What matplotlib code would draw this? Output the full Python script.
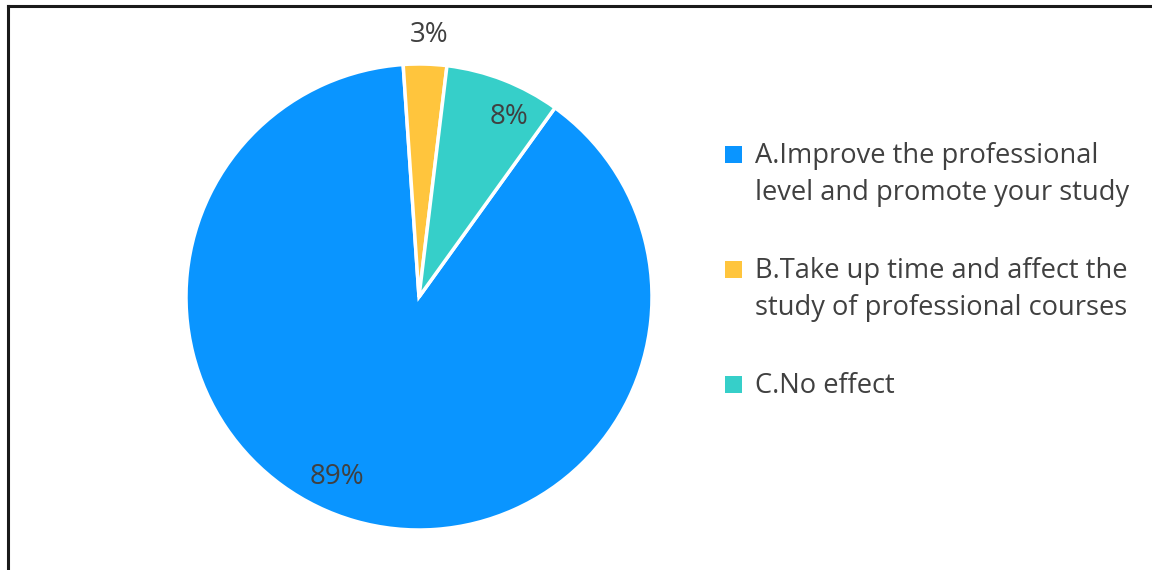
import matplotlib
matplotlib.use("Agg")
import matplotlib.pyplot as plt
from matplotlib.lines import Line2D
from matplotlib.patches import Rectangle

plt.rcParams['font.family'] = ['Open Sans', 'DejaVu Sans']

labels = ["A.Improve the professional\nlevel and promote your study",
          "B.Take up time and affect the\nstudy of professional courses",
          "C.No effect"]
values = [89, 3, 8]
colors = ["#0A95FF", "#FFC53D", "#36CFC9"]
text_color = "#404040"

# where each percentage sits, in pie units
label_xy = [(-0.352, -0.773), (0.043, 1.124), (0.386, 0.773)]

W, H = 1152, 570
fig = plt.figure(figsize=(W / 100, H / 100), dpi=100)


def fx(px):
    return px / W


def fy(px):
    return 1 - px / H


# pie centred at (419, 297) px with radius 233 px
cx, cy, r = 419, 297, 233
ax = fig.add_axes([(cx - r) / W, (H - cy - r) / H, 2 * r / W, 2 * r / H])
wedges, _ = ax.pie(values, colors=colors, startangle=54.3, counterclock=False,
                   wedgeprops=dict(edgecolor="white", linewidth=2.5))
ax.set_xlim(-1, 1)
ax.set_ylim(-1, 1)
ax.set_aspect("auto")
ax.axis("off")

for v, (x, y) in zip(values, label_xy):
    ax.text(x, y, f"{v}%", ha="center", va="center", fontsize=20,
            color=text_color, clip_on=False)

# legend drawn by hand: swatch sits on the first line, lines 37 px apart
base0, step, line_h, sq = 163, 115, 37, 17
for i, (lab, c) in enumerate(zip(labels, colors)):
    base = base0 + i * step
    fig.add_artist(Rectangle((fx(725), fy(base)), sq / W, sq / H, facecolor=c,
                             edgecolor="none", transform=fig.transFigure))
    for j, line in enumerate(lab.split("\n")):
        fig.text(fx(755), fy(base + j * line_h), line, ha="left", va="baseline",
                 fontsize=19.6, color=text_color)

# thin frame on the top and left edges
fig.add_artist(Line2D([fx(7.5), fx(7.5)], [0, fy(6)], color="#1a1a1a", lw=2.2,
                      transform=fig.transFigure))
fig.add_artist(Line2D([fx(7.5), 1], [fy(6), fy(6)], color="#1a1a1a", lw=2.2,
                      transform=fig.transFigure))

fig.savefig("out.png", dpi=100, facecolor="white")
